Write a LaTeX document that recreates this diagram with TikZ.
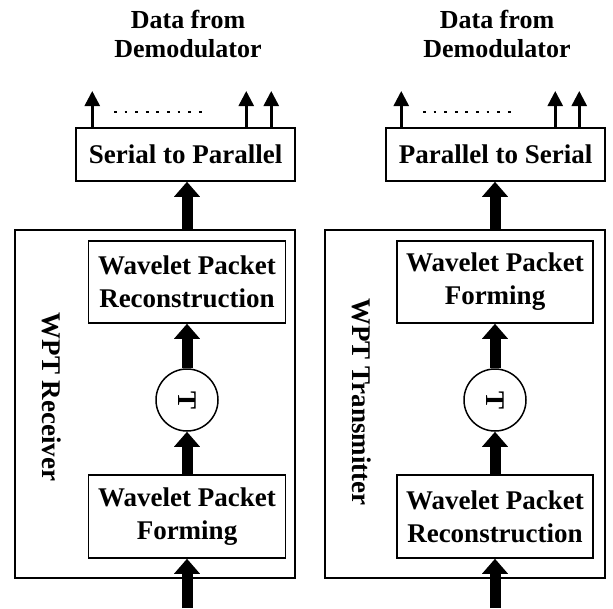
\documentclass[tikz,border=0pt]{standalone}
\usepackage{fontspec}
\setmainfont{Liberation Serif}
\usetikzlibrary{arrows.meta,calc}
\begin{document}
\begin{tikzpicture}[x=1pt,y=1pt,
  txt/.style={font=\bfseries\fontsize{27}{33}\selectfont,align=center},
  ttl/.style={font=\bfseries\fontsize{26}{29}\selectfont,align=center},
  blk/.style={draw,line width=1.5pt,inner sep=0pt,txt},
  circ/.style={draw,circle,line width=1.5pt,minimum size=62pt,inner sep=0pt,txt},
  fat/.style={line width=11pt,-{Triangle[width=25pt,length=15pt]}},
  thin/.style={line width=2.5pt,-{Triangle[width=15pt,length=15pt]}},
  dots/.style={line width=2.8pt,dash pattern=on 2.8pt off 7.8pt}]
\useasboundingbox (0,0) rectangle (613,-608);
% ---------- left panel ----------
\node[ttl] (t1) at (188,-34) {Data from\\Demodulator};
\node[blk,minimum width=219pt,minimum height=53pt] (sp) at (185.5,-154.5) {Serial to Parallel};
\node[draw,line width=1.5pt,minimum width=280pt,minimum height=348pt,inner sep=0pt] (o1) at (155,-404) {};
\node[blk,minimum width=197pt,minimum height=82pt] (wr1) at (187,-282) {Wavelet Packet\\Reconstruction};
\node[circ] (c1) at (187,-400) {\rotatebox{-90}{T}};
\node[blk,minimum width=197pt,minimum height=83pt] (wf1) at (187,-516.5) {Wavelet Packet\\Forming};
\node[txt,rotate=-90] (l1) at (52,-397) {WPT Receiver};
\coordinate (in1) at (187,-608);
\draw[fat] (in1) -- (wf1.south);
\draw[fat] (wf1.north) -- (c1.south);
\draw[fat] (c1.north) -- (wr1.south);
\draw[fat] (wr1.north |- o1.north) -- (wr1.north |- sp.south);
\coordinate (a1) at ($(sp.north west)+(17,0)$);
\coordinate (b1) at ($(sp.north west)+(171,0)$);
\coordinate (d1) at ($(sp.north west)+(196,0)$);
\draw[thin] (a1) -- (a1 |- 0,-91);
\draw[thin] (b1) -- (b1 |- 0,-91);
\draw[thin] (d1) -- (d1 |- 0,-91);
\coordinate (e1) at (114,-112);
\coordinate (f1) at (202,-112);
\draw[dots] (e1) -- (f1);
% ---------- right panel ----------
\node[ttl] (t2) at (497,-34) {Data from\\Demodulator};
\node[blk,minimum width=219pt,minimum height=53pt] (ps) at (495.5,-154.5) {Parallel to Serial};
\node[draw,line width=1.5pt,minimum width=280pt,minimum height=348pt,inner sep=0pt] (o2) at (465,-404) {};
\node[blk,minimum width=196pt,minimum height=82pt] (wf2) at (495,-282) {Wavelet Packet\\Forming};
\node[circ] (c2) at (495,-400) {\rotatebox{-90}{T}};
\node[blk,minimum width=196pt,minimum height=83pt] (wr2) at (495,-516.5) {Wavelet Packet\\Reconstruction};
\node[txt,rotate=-90] (l2) at (362,-402) {WPT Transmitter};
\coordinate (in2) at (495,-608);
\draw[fat] (in2) -- (wr2.south);
\draw[fat] (wr2.north) -- (c2.south);
\draw[fat] (c2.north) -- (wf2.south);
\draw[fat] (wf2.north |- o2.north) -- (wf2.north |- ps.south);
\coordinate (a2) at ($(ps.north west)+(16,0)$);
\coordinate (b2) at ($(ps.north west)+(170,0)$);
\coordinate (d2) at ($(ps.north west)+(194,0)$);
\draw[thin] (a2) -- (a2 |- 0,-91);
\draw[thin] (b2) -- (b2 |- 0,-91);
\draw[thin] (d2) -- (d2 |- 0,-91);
\coordinate (e2) at (423,-112);
\coordinate (f2) at (511,-112);
\draw[dots] (e2) -- (f2);
\end{tikzpicture}
\end{document}
